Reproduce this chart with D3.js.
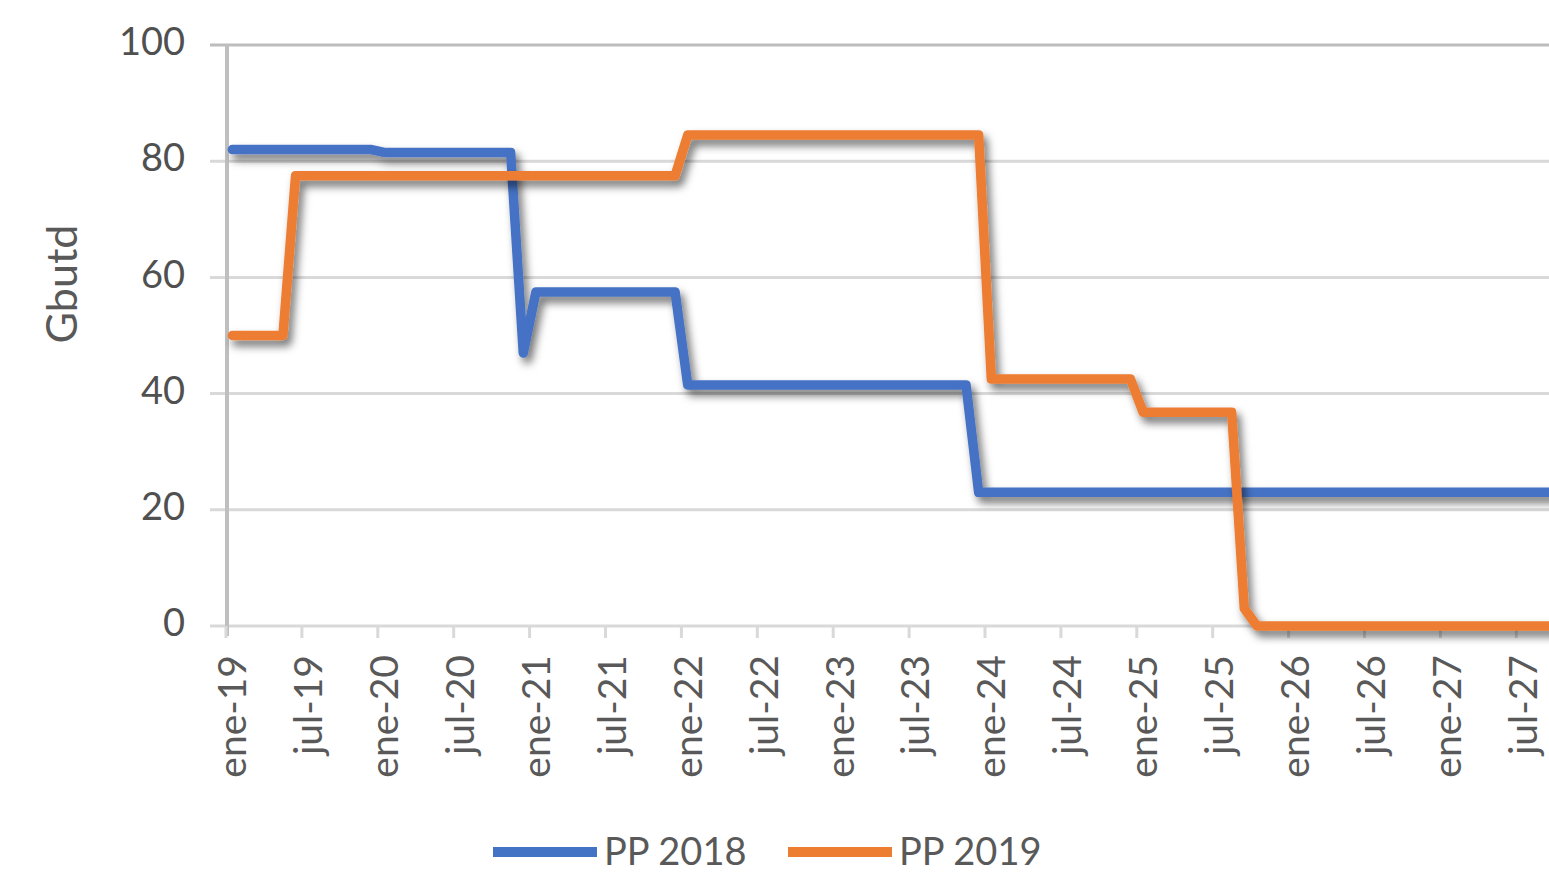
<!DOCTYPE html>
<html>
<head>
<meta charset="utf-8">
<script src="https://cdn.jsdelivr.net/npm/d3@7"></script>
<style>
    body { margin: 0; background: #fff; }
    svg { display: block; font-family: Lato, "Open Sans", sans-serif; }
</style>
</head>
<body>
<div class="data_figure"></div>
<script>
// meses ene-19 .. dic-27
const mesNombres = ["ene", "feb", "mar", "abr", "may", "jun", "jul", "ago", "sep", "oct", "nov", "dic"];
const anios = ["19", "20", "21", "22", "23", "24", "25", "26", "27"];

const tickLabels = ["ene-19", "jul-19", "ene-20", "jul-20", "ene-21", "jul-21", "ene-22", "jul-22",
    "ene-23", "jul-23", "ene-24", "jul-24", "ene-25", "jul-25", "ene-26", "jul-26", "ene-27", "jul-27"];

const yTicks = [0, 20, 40, 60, 80, 100];

const seriesNames = ["PP 2018", "PP 2019"];

const pp2018 = [
    82, 82, 82, 82, 82, 82, 82, 82, 82, 82, 82, 82,
    81.5, 81.5, 81.5, 81.5, 81.5, 81.5, 81.5, 81.5, 81.5, 81.5, 81.5, 47,
    57.5, 57.5, 57.5, 57.5, 57.5, 57.5, 57.5, 57.5, 57.5, 57.5, 57.5, 57.5,
    41.5, 41.5, 41.5, 41.5, 41.5, 41.5, 41.5, 41.5, 41.5, 41.5, 41.5, 41.5,
    41.5, 41.5, 41.5, 41.5, 41.5, 41.5, 41.5, 41.5, 41.5, 41.5, 41.5, 23,
    23, 23, 23, 23, 23, 23, 23, 23, 23, 23, 23, 23,
    23, 23, 23, 23, 23, 23, 23, 23, 23, 23, 23, 23,
    23, 23, 23, 23, 23, 23, 23, 23, 23, 23, 23, 23,
    23, 23, 23, 23, 23, 23, 23, 23, 23, 23, 23, 23
];

const pp2019 = [
    50, 50, 50, 50, 50, 77.5, 77.5, 77.5, 77.5, 77.5, 77.5, 77.5,
    77.5, 77.5, 77.5, 77.5, 77.5, 77.5, 77.5, 77.5, 77.5, 77.5, 77.5, 77.5,
    77.5, 77.5, 77.5, 77.5, 77.5, 77.5, 77.5, 77.5, 77.5, 77.5, 77.5, 77.5,
    84.5, 84.5, 84.5, 84.5, 84.5, 84.5, 84.5, 84.5, 84.5, 84.5, 84.5, 84.5,
    84.5, 84.5, 84.5, 84.5, 84.5, 84.5, 84.5, 84.5, 84.5, 84.5, 84.5, 84.5,
    42.5, 42.5, 42.5, 42.5, 42.5, 42.5, 42.5, 42.5, 42.5, 42.5, 42.5, 42.5,
    36.8, 36.8, 36.8, 36.8, 36.8, 36.8, 36.8, 36.8, 3, 0, 0, 0,
    0, 0, 0, 0, 0, 0, 0, 0, 0, 0, 0, 0,
    0, 0, 0, 0, 0, 0, 0, 0, 0, 0, 0, 0
];

const colors = ["#4472C4", "#ED7D31"];

const width = 1549;
const height = 872;
const plotLeft = 226,
    plotTop = 45,
    plotBottom = 626,
    monthWidth = 12.65;

const meses = [];
anios.forEach((a) => mesNombres.forEach((m) => meses.push(m + "-" + a)));

const xScale = d3.scaleBand()
    .domain(meses)
    .range([plotLeft, plotLeft + meses.length * monthWidth])
    .padding(0);

const yScale = d3.scaleLinear()
    .domain([0, 100])
    .range([plotBottom, plotTop]);

const xMid = (m) => xScale(m) + xScale.bandwidth() / 2;

let svg = d3.select(".data_figure")
    .append("svg")
    .attr("width", width)
    .attr("height", height);

let defs = svg.append("defs");
defs.append("filter")
    .attr("id", "sombra")
    .attr("x", "-10%").attr("y", "-10%")
    .attr("width", "130%").attr("height", "130%")
    .append("feDropShadow")
    .attr("dx", 4)
    .attr("dy", 6)
    .attr("stdDeviation", 4)
    .attr("flood-color", "#000")
    .attr("flood-opacity", 0.55);

// gridlines
svg.append("g")
    .selectAll("line")
    .data(yTicks)
    .enter()
    .append("line")
    .attr("x1", plotLeft - 16)
    .attr("x2", width)
    .attr("y1", (d) => yScale(d))
    .attr("y2", (d) => yScale(d))
    .attr("stroke", (d) => d == 100 ? "#bdbdbd" : "#d9d9d9")
    .attr("stroke-width", 3);

// y axis
svg.append("line")
    .attr("x1", plotLeft + 1).attr("x2", plotLeft + 1)
    .attr("y1", plotTop).attr("y2", plotBottom + 10)
    .attr("stroke", "#bfbfbf")
    .attr("stroke-width", 4);

svg.append("g")
    .selectAll("text")
    .data(yTicks)
    .enter()
    .append("text")
    .text((d) => d)
    .attr("x", 185)
    .attr("y", (d) => yScale(d))
    .attr("dy", "0.27em")
    .attr("text-anchor", "end")
    .attr("font-size", 38)
    .attr("fill", "#505050");

svg.append("text")
    .text("Gbutd")
    .attr("transform", "translate(77, 284) rotate(-90)")
    .attr("text-anchor", "middle")
    .attr("font-size", 43)
    .attr("fill", "#595959");

// x axis ticks (every 6 months, at month boundaries)
svg.append("g")
    .selectAll("line")
    .data(tickLabels)
    .enter()
    .append("line")
    .attr("x1", (d) => xScale(d))
    .attr("x2", (d) => xScale(d))
    .attr("y1", plotBottom)
    .attr("y2", plotBottom + 12)
    .attr("stroke", "#d9d9d9")
    .attr("stroke-width", 3);

svg.append("g")
    .selectAll("text")
    .data(tickLabels)
    .enter()
    .append("text")
    .text((d) => d)
    .attr("transform", (d) => "translate(" + (xMid(d) + 14) + ", 655) rotate(-90)")
    .attr("text-anchor", "end")
    .attr("font-size", 39)
    .attr("fill", "#595959");

// lines
const line = d3.line()
    .x((d) => xMid(d[0]))
    .y((d) => yScale(d[1]));

[pp2018, pp2019].forEach((serie, k) => {
    svg.append("path")
        .datum(meses.map((m, i) => [m, serie[i]]))
        .attr("d", line)
        .attr("fill", "none")
        .attr("stroke", colors[k])
        .attr("stroke-width", 9.5)
        .attr("stroke-linejoin", "round")
        .attr("stroke-linecap", "round")
        .attr("filter", "url(#sombra)");
});

// legend
const legendX = [493, 788];
let legend = svg.append("g")
    .selectAll("g")
    .data(seriesNames)
    .enter()
    .append("g")
    .attr("transform", (d, i) => "translate(" + legendX[i] + ", 852)");

legend.append("line")
    .attr("x1", 0).attr("x2", 104)
    .attr("y1", 0).attr("y2", 0)
    .attr("stroke", (d, i) => colors[i])
    .attr("stroke-width", 10);

legend.append("text")
    .text((d) => d)
    .attr("x", 111)
    .attr("y", 13)
    .attr("font-size", 38)
    .attr("fill", "#595959");
</script>
</body>
</html>
